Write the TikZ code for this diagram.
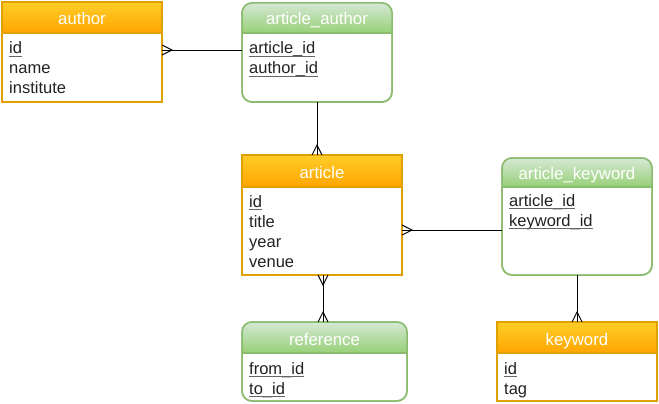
\documentclass[tikz,border=0pt]{standalone}
\usepackage{fontspec}
\setmainfont{Liberation Sans}
\definecolor{oTop}{HTML}{FFCD28}
\definecolor{oBot}{HTML}{FFA500}
\definecolor{oLine}{HTML}{E0A100}
\definecolor{gTop}{HTML}{D5E8D4}
\definecolor{gBot}{HTML}{97D077}
\definecolor{gLine}{HTML}{8BBB6F}
\definecolor{txt}{HTML}{222222}
\definecolor{ulc}{HTML}{666666}
\tikzset{
  x=1pt, y=-1pt,
  orad/.style={sharp corners},
  grad/.style={rounded corners=10pt},
  obox/.style={draw=oLine, line width=1.5pt, fill=white, inner sep=0pt, outer sep=0pt},
  gbox/.style={draw=gLine, line width=1.5pt, fill=white, inner sep=0pt, outer sep=0pt, rounded corners=10pt},
  oshade/.style={top color=oTop, bottom color=oBot},
  gshade/.style={top color=gTop, bottom color=gBot},
  title/.style={text=white, font=\fontsize{16.8}{18}\selectfont, inner sep=0pt, anchor=base},
  rowtext/.style={text=txt, font=\fontsize{16.5}{18}\selectfont, inner sep=0pt, anchor=base west},
  ul/.style={draw=ulc, line width=0.9pt},
  conn/.style={draw=black, line width=0.9pt},
  crow/.pic={\draw[line width=0.9pt] (0pt,5pt) -- (10pt,0pt) -- (0pt,-5pt);}
}
% name, x1, y1, x2, y2, header bottom, kind (o/g), title, title baseline
\newcommand\mkent[9]{%
  \node[#7box, minimum width={(#4-#2)*1pt}, minimum height={(#5-#3)*1pt}] (#1) at ({(#2+#4)/2},{(#3+#5)/2}) {};
  \begin{scope}[#7rad]
    \clip (#1.north west) rectangle (#1.south east);
    \shade[#7shade, sharp corners] (#1.north west) rectangle (#1.east |- 0,#6);
  \end{scope}
  \draw[#7box, fill=none, sharp corners] (#1.west |- 0,#6) -- (#1.east |- 0,#6);
  \draw[#7box, fill=none] (#1.north west) rectangle (#1.south east);
  \node[title] (#1-t) at ({(#2+#4)/2},#9) {#8};
}
\newcommand\keyrow[4]{%
  \node[rowtext] (#1) at (#2,#3) {#4};
  \draw[ul] ([yshift=-2pt]#1.base west) -- ([yshift=-2pt]#1.base east);
}
\newcommand\plainrow[4]{%
  \node[rowtext] (#1) at (#2,#3) {#4};
}
\begin{document}
\begin{tikzpicture}
\useasboundingbox (0,0) rectangle (659,404);
\fill[white] (0,0) rectangle (659,404);

\mkent{author}{2}{2}{162}{102}{33}{o}{author}{25}
\keyrow{a1}{9}{54}{id}
\plainrow{a2}{9}{74}{name}
\plainrow{a3}{9}{94}{institute}

\mkent{articleauthor}{242}{3}{392}{102}{33}{g}{article\_author}{25}
\keyrow{aa1}{249}{54}{article\_id}
\keyrow{aa2}{249}{74}{author\_id}

\mkent{article}{242}{155}{402}{275}{187}{o}{article}{178}
\keyrow{ar1}{249}{207}{id}
\plainrow{ar2}{249}{227}{title}
\plainrow{ar3}{249}{247}{year}
\plainrow{ar4}{249}{267}{venue}

\mkent{articlekeyword}{502}{158}{652}{275}{187}{g}{article\_keyword}{179}
\keyrow{ak1}{509}{206}{article\_id}
\keyrow{ak2}{509}{226}{keyword\_id}

\mkent{reference}{242}{322}{407}{401}{353}{g}{reference}{345}
\keyrow{r1}{249}{374}{from\_id}
\keyrow{r2}{249}{394}{to\_id}

\mkent{keyword}{497}{322}{657}{401}{353}{o}{keyword}{345}
\keyrow{k1}{504}{374}{id}
\plainrow{k2}{504}{394}{tag}

% connectors
\coordinate (c1a) at (author.east |- 0,50);
\coordinate (c1b) at (articleauthor.west |- 0,50);
\draw[conn] (c1a) -- (c1b);
\pic at (c1a) {crow};

\coordinate (c2a) at (317,0 |- articleauthor.south);
\coordinate (c2b) at (317,0 |- article.north);
\draw[conn] (c2a) -- (c2b);
\pic[rotate=90] at (c2b) {crow};

\coordinate (c3a) at (article.east |- 0,230);
\coordinate (c3b) at (articlekeyword.west |- 0,230);
\draw[conn] (c3a) -- (c3b);
\pic at (c3a) {crow};

\coordinate (c4a) at (323,0 |- article.south);
\coordinate (c4b) at (323,0 |- reference.north);
\draw[conn] (c4a) -- (c4b);
\pic[rotate=-90] at (c4a) {crow};
\pic[rotate=90] at (c4b) {crow};

\coordinate (c5a) at (577,0 |- articlekeyword.south);
\coordinate (c5b) at (577,0 |- keyword.north);
\draw[conn] (c5a) -- (c5b);
\pic[rotate=90] at (c5b) {crow};
\end{tikzpicture}
\end{document}
